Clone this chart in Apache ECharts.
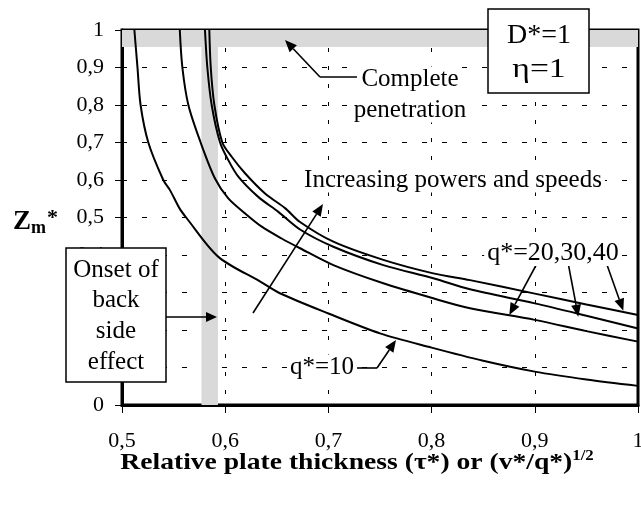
<!DOCTYPE html>
<html><head><meta charset="utf-8">
<script src="https://cdn.jsdelivr.net/npm/echarts@6/dist/echarts.min.js"></script>
<style>html,body{margin:0;padding:0;background:#fff}#c{width:641px;height:506px}</style>
</head><body><div id="c"></div>
<script>
// ---- data ----
const xTicks = [0.5, 0.6, 0.7, 0.8, 0.9, 1.0];
const yTicks = [0, 0.1, 0.2, 0.3, 0.4, 0.5, 0.6, 0.7, 0.8, 0.9, 1.0];
const q10X = [0.512, 0.515, 0.518, 0.5255, 0.540, 0.5465, 0.5556, 0.5627, 0.5934, 0.634, 0.653, 0.700, 0.750, 0.800, 0.850, 0.900, 0.950, 1.000];
const q10Y = [1.000, 0.900, 0.800, 0.700, 0.600, 0.573, 0.525, 0.498, 0.395, 0.329, 0.298, 0.244, 0.191, 0.153, 0.118, 0.089, 0.068, 0.051];
const q20X = [0.556, 0.5585, 0.5643, 0.5762, 0.5901, 0.603, 0.6192, 0.6354, 0.6547, 0.6725, 0.7048, 0.7532, 0.8016, 0.8372, 0.900, 0.950, 1.000];
const q20Y = [1.000, 0.900, 0.800, 0.700, 0.604, 0.551, 0.511, 0.4755, 0.444, 0.418, 0.373, 0.3245, 0.2845, 0.258, 0.227, 0.197, 0.169];
const q30X = [0.5804, 0.5827, 0.5869, 0.595, 0.603, 0.6127, 0.632, 0.6515, 0.6725, 0.7048, 0.7532, 0.8016, 0.8372, 0.900, 0.950, 1.000];
const q30Y = [1.000, 0.900, 0.800, 0.700, 0.653, 0.609, 0.555, 0.515, 0.468, 0.422, 0.373, 0.338, 0.3085, 0.271, 0.238, 0.204];
const q40X = [0.5846, 0.586, 0.5895, 0.5972, 0.6063, 0.6192, 0.6386, 0.658, 0.6725, 0.7048, 0.7532, 0.8016, 0.8372, 0.900, 0.950, 1.000];
const q40Y = [1.000, 0.900, 0.800, 0.700, 0.662, 0.618, 0.564, 0.525, 0.488, 0.4355, 0.387, 0.351, 0.333, 0.297, 0.268, 0.240];
// shaded bands [x0, x1, y0, y1]
const bandCompletePen = [0.5, 1.0, 0.955, 1.0];
const bandOnset = [0.577, 0.593, 0, 0.955];

const zip = (xs, ys) => xs.map((x, i) => [x, ys[i]]);
const SERIF = '"Liberation Serif", "Times New Roman", serif';
const fmt = v => String(Math.round(v * 10) / 10).replace('.', ',');

function arrow(x1, y1, x2, y2, hl, hw) {
  hl = hl || 12; hw = hw || 5;
  const dx = x2 - x1, dy = y2 - y1, L = Math.hypot(dx, dy);
  const ux = dx / L, uy = dy / L, px = -uy, py = ux;
  const bx = x2 - ux * hl, by = y2 - uy * hl;
  return [
    { type: 'line', z: 100, shape: { x1: x1, y1: y1, x2: bx, y2: by }, style: { stroke: '#000', lineWidth: 1.6 } },
    { type: 'polygon', z: 100, shape: { points: [[x2, y2], [bx + px * hw, by + py * hw], [bx - px * hw, by - py * hw]] }, style: { fill: '#000' } }
  ];
}
function txt(t, x, y, size, bg, sx) {
  const st = { text: t, font: size + 'px ' + SERIF, fill: '#000', align: 'center', verticalAlign: 'middle', textAlign: 'center', textVerticalAlign: 'middle' };
  if (bg) { st.backgroundColor = '#fff'; st.padding = [0, 3]; }
  return { type: 'text', z: 101, x: x, y: y, scaleX: sx || 1, style: st };
}

const lineSeries = (name, xs, ys) => ({
  name: name, type: 'line', data: zip(xs, ys), showSymbol: false, symbol: 'none', smooth: 0.3,
  lineStyle: { color: '#000', width: 2 }, z: 5, clip: true
});

const chart = echarts.init(document.getElementById('c'), null, { renderer: 'canvas' });
const graphics = [].concat(
  // D*, eta box
  [{ type: 'rect', z: 99, shape: { x: 488, y: 9, width: 101, height: 84 }, style: { fill: '#fff', stroke: '#000', lineWidth: 1.5 } },
   txt('D*=1', 539, 36, 28), txt('η=1', 539, 70, 28, false, 1.2)],
  // complete penetration
  [{ type: 'polyline', z: 100, shape: { points: [[357, 77], [320, 77]] }, style: { stroke: '#000', lineWidth: 1.6 } }],
  arrow(320, 77, 285, 40),
  [txt('Complete', 410, 79, 25, true), txt('penetration', 410, 110, 25, true)],
  // increasing
  [txt('Increasing powers and speeds', 453, 180, 25, true)],
  arrow(253, 313, 323, 204),
  // onset box
  [{ type: 'rect', z: 99, shape: { x: 66, y: 248, width: 100, height: 134 }, style: { fill: '#fff', stroke: '#000', lineWidth: 1.5 } },
   txt('Onset of', 116, 270, 25), txt('back', 116, 300, 25), txt('side', 116, 331, 25), txt('effect', 116, 362, 25)],
  arrow(166, 317, 217, 317, 11, 5),
  // q*=20,30,40
  [txt('q*=20,30,40', 553, 253, 26, true)],
  arrow(536.7, 264, 509.3, 315), arrow(568.3, 264, 578.3, 316.7), arrow(606.7, 264, 623.3, 310.7),
  // q*=10
  [txt('q*=10', 322, 367, 25, true),
   { type: 'polyline', z: 100, shape: { points: [[355, 368], [377, 368]] }, style: { stroke: '#000', lineWidth: 1.6 } }],
  arrow(377, 368, 396, 340),
  // axis titles
  [{ type: 'text', z: 101, x: 13, y: 222, style: {
      text: '{z|Z}{m|m}{s|*}', fill: '#000', align: 'left', verticalAlign: 'middle', textAlign: 'left', textVerticalAlign: 'middle',
      rich: {
        z: { font: 'bold 27px ' + SERIF, lineHeight: 30, verticalAlign: 'middle' },
        m: { font: 'bold 18px ' + SERIF, lineHeight: 30, verticalAlign: 'bottom', padding: [0, 1, 0, 0] },
        s: { font: 'bold 22px ' + SERIF, lineHeight: 30, verticalAlign: 'top' }
      } } },
   { type: 'text', z: 101, x: 357, y: 462, scaleX: 1.2, scaleY: 1, style: {
      text: '{a|Relative plate thickness (τ*) or (v*/q*)}{s|1/2}', fill: '#000', align: 'center', verticalAlign: 'middle', textAlign: 'center', textVerticalAlign: 'middle',
      rich: {
        a: { font: 'bold 23px ' + SERIF, lineHeight: 26, verticalAlign: 'bottom' },
        s: { font: 'bold 14px ' + SERIF, lineHeight: 26, verticalAlign: 'top' }
      } } }]
);

chart.setOption({
  animation: false,
  backgroundColor: '#fff',
  grid: { left: 122, right: 3, top: 30, bottom: 101, containLabel: false, outerBoundsMode: 'none', show: true, borderColor: '#000', borderWidth: 3, backgroundColor: 'transparent' },
  xAxis: {
    type: 'value', min: xTicks[0], max: xTicks[xTicks.length - 1], interval: 0.1,
    axisLine: { show: true, lineStyle: { color: '#000', width: 3 } },
    axisTick: { show: true, length: 8, lineStyle: { color: '#000', width: 1 } },
    axisLabel: { formatter: fmt, color: '#000', fontFamily: SERIF, fontSize: 22, margin: 25, hideOverlap: false },
    splitLine: { show: true, lineStyle: { color: '#000', width: 1, type: [4, 14] } }
  },
  yAxis: {
    type: 'value', min: yTicks[0], max: yTicks[yTicks.length - 1], interval: 0.1,
    axisLine: { show: true, lineStyle: { color: '#000', width: 3 } },
    axisTick: { show: true, length: 7, lineStyle: { color: '#000', width: 1 } },
    axisLabel: { formatter: fmt, color: '#000', fontFamily: SERIF, fontSize: 22, margin: 18 },
    splitLine: { show: true, lineStyle: { color: '#000', width: 1, type: [5, 15] } }
  },
  series: [
    lineSeries('q*=10', q10X, q10Y),
    lineSeries('q*=20', q20X, q20Y),
    lineSeries('q*=30', q30X, q30Y),
    Object.assign(lineSeries('q*=40', q40X, q40Y), {
      markArea: { silent: true, itemStyle: { color: '#d9d9d9' }, data: [
        [{ coord: [bandCompletePen[0], bandCompletePen[2]] }, { coord: [bandCompletePen[1], bandCompletePen[3]] }],
        [{ coord: [bandOnset[0], bandOnset[2]] }, { coord: [bandOnset[1], bandOnset[3]] }]
      ] }
    })
  ],
  graphic: graphics
});
</script></body></html>
